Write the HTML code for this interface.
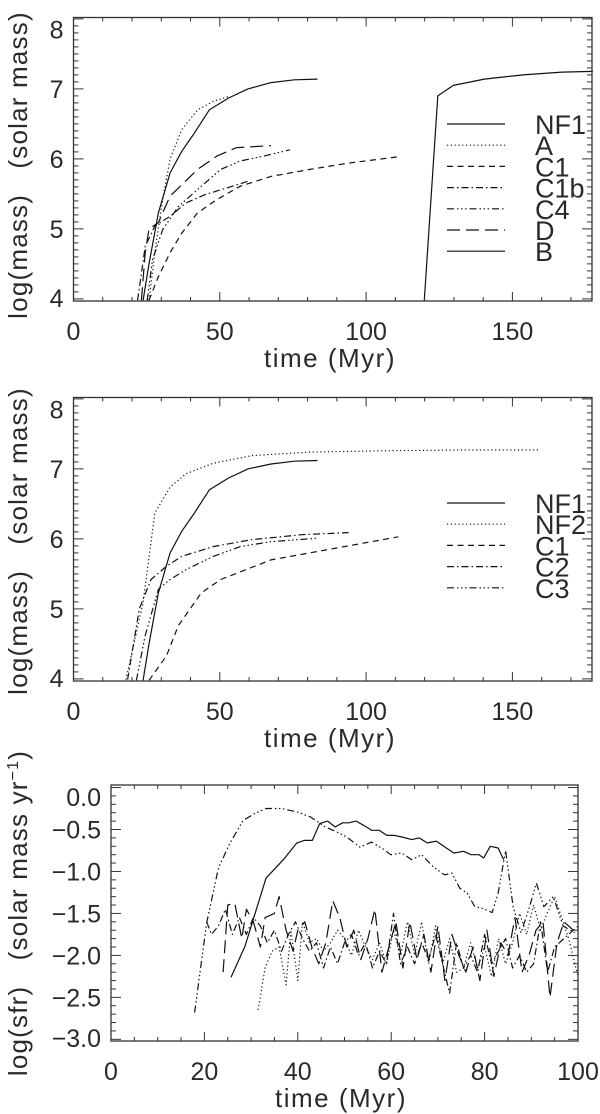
<!DOCTYPE html>
<html><head><meta charset="utf-8"><style>
html,body{margin:0;padding:0;background:#fff;}
svg{display:block;}
text{font-family:"Liberation Sans",sans-serif;fill:#2a2a2a;}
</style></head><body>
<svg id="fig" width="600" height="1114" viewBox="0 0 600 1114" xmlns="http://www.w3.org/2000/svg"></svg>
<script>
// ---------- Panel 1 data (time Myr, log mass) ----------
const p1_NF1_t=[23.8,25.8,29,33,37,41,46.4,53,59.6,67.5,75.5,83.4];
const p1_NF1_v=[3.98,4.5,5.23,5.8,6.11,6.35,6.7,6.87,7.0,7.09,7.13,7.14];
const p1_A_t=[25.8,27.8,30.5,33,37,42.4,47.7,53.6];
const p1_A_v=[3.98,4.66,5.42,6.0,6.42,6.7,6.82,6.9];
const p1_C1_t=[25.8,29,33,37,42.4,49,57,67.5,80.8,94,111];
const p1_C1_v=[3.98,4.32,4.66,4.94,5.23,5.42,5.61,5.75,5.85,5.94,6.03];
const p1_C1b_t=[21.9,24.5,27.8,33,38.4,45,54.3,59.6];
const p1_C1b_v=[3.98,4.75,5.04,5.18,5.37,5.49,5.61,5.68];
const p1_C4_t=[25.2,27,30.5,35.8,43.7,50.3,57,65,74];
const p1_C4_v=[3.98,4.56,4.99,5.32,5.61,5.85,5.97,6.04,6.13];
const p1_D_t=[23.2,24.5,25.8,29,33,37,42.4,49,55.6,67.5];
const p1_D_v=[3.98,4.66,5.0,5.09,5.47,5.63,5.85,6.04,6.16,6.19];
const p1_B_t=[119.9,124.5,129.8,140.4,153.6,166.9,177.5];
const p1_B_v=[3.98,6.9,7.05,7.14,7.2,7.24,7.25];
// ---------- Panel 2 data ----------
const p2_NF1_t=[23.8,25.8,29,33,37,41,46.4,53,59.6,67.5,75.5,83.4];
const p2_NF1_v=[3.98,4.5,5.23,5.8,6.11,6.35,6.7,6.87,7.0,7.07,7.11,7.12];
const p2_NF2_t=[17.9,20.5,23.8,27.8,33,38.4,47.7,61,80.8,107,133.8,159.6];
const p2_NF2_v=[3.99,4.48,5.09,6.37,6.74,6.93,7.08,7.19,7.24,7.26,7.27,7.27];
const p2_C1_t=[25.8,31.8,35.8,43.7,50.3,67.5,83.4,111];
const p2_C1_v=[3.98,4.33,4.76,5.23,5.42,5.7,5.82,6.03];
const p2_C2_t=[18.5,22.5,26.5,31.8,37,47.7,61,78,94];
const p2_C2_v=[3.99,5.0,5.42,5.61,5.75,5.89,5.99,6.06,6.09];
const p2_C3_t=[21.5,24.5,29,33,38.4,47.7,57,67.5,83.4];
const p2_C3_v=[3.98,4.62,5.28,5.42,5.56,5.75,5.89,5.96,6.01];
// ---------- Panel 3 data (time Myr, log sfr) ----------
const p3_NF1_t=[25.7,28.7,33.2,36.9,39.8,41.4,43.1,44.7,46.4,48,49.6,50.9,52.5,54.1,55.8,57.4,59.1,60.7,62.3,64.4,66,67.7,69.7,71.8,73.4,75.5,77.1,78.8,79.8,81.2,82.9,84.1];
const p3_NF1_v=[-2.26,-1.89,-1.08,-0.86,-0.66,-0.63,-0.63,-0.43,-0.4,-0.47,-0.42,-0.42,-0.4,-0.45,-0.51,-0.51,-0.57,-0.57,-0.59,-0.62,-0.6,-0.66,-0.64,-0.72,-0.78,-0.76,-0.8,-0.8,-0.84,-0.7,-0.72,-0.86];
const p3_NF2_t=[17.9,20.5,23,25.4,28.3,30.8,33.2,36.5,39.8,42.7,45.9,48.4,50.5,53.3,55.8,58.2,59.9,62.3,64.4,66.5,68.9,71.4,73,74.7,76.3,77.9,79.6,81.6,82.9,84.5,86.1,87.8,89.4,91.1,92.7,94.7,96.8,99.3];
const p3_NF2_v=[-2.68,-1.61,-0.96,-0.67,-0.39,-0.31,-0.25,-0.25,-0.29,-0.35,-0.47,-0.53,-0.59,-0.71,-0.65,-0.73,-0.8,-0.78,-0.86,-0.8,-0.94,-1.04,-1.02,-1.2,-1.26,-1.42,-1.44,-1.49,-1.26,-0.75,-1.42,-1.73,-1.46,-1.14,-1.42,-1.3,-1.65,-1.73];
const p3_C1_t=[24,25,26.5,28,29,30.5,32,33,35,36,37.5,39,40,41.5,43,44.5,46,47.5,49,50.5,52,53.5,55,56.5,58,59.5,61,62.5,64,65.5,67,68.5,70,71.5,73,74.5,76,77.5,79,80.5,82,83.5,85,86.5,88,89.5,91,92.5,94,95.5,97,99];
const p3_C1_v=[-2.2,-1.4,-1.38,-1.8,-1.45,-1.6,-1.9,-1.55,-1.5,-1.3,-1.7,-1.95,-1.7,-1.6,-1.9,-2.1,-1.85,-1.35,-1.55,-1.9,-1.7,-2.05,-1.8,-1.45,-2.2,-1.9,-1.6,-2.15,-1.6,-2.05,-1.75,-2.2,-1.65,-2.3,-1.75,-2.0,-2.2,-1.9,-2.3,-1.7,-2.25,-1.85,-2.0,-1.55,-2.2,-2.0,-1.7,-1.6,-2.5,-1.85,-1.6,-1.7];
const p3_C2_t=[20.5,21.5,23,24.5,26,27.5,29,30.5,32,33.5,35,36.5,38,39.5,41,42.5,44,45.5,47,48.5,50,51.5,53,54.5,56,57.5,59,60.5,62,63.5,65,66.5,68,69.5,71,72.5,74,75.5,77,78.5,80,81.5,83,84.5,86,87.5,89,90.5,92,93.5,95,97,100];
const p3_C2_v=[-1.6,-1.75,-1.65,-1.45,-1.75,-1.55,-1.75,-1.55,-1.65,-1.85,-1.7,-1.95,-1.75,-1.6,-1.8,-1.95,-1.85,-2.15,-1.9,-2.1,-1.85,-1.75,-2.0,-1.85,-2.15,-1.95,-2.1,-1.5,-2.1,-1.9,-2.1,-1.85,-2.05,-1.75,-2.1,-2.45,-1.85,-2.15,-2.0,-2.2,-1.75,-2.1,-1.95,-1.8,-2.15,-2.0,-2.2,-2.1,-1.6,-2.2,-1.9,-1.8,-1.65];
const p3_C3_t=[31.5,33,34.5,36,37.5,38.5,40,41,42.5,44,45.5,47,48.5,50,51.5,53,54.5,56,57.5,59,60.5,62,63.5,65,66.5,68,69.5,71,72.5,74,75.5,77,78.5,80,81.5,83,84.5,86,87.5,89,90.5,92,93,95,96.5,98,100];
const p3_C3_v=[-2.65,-2.15,-1.95,-1.9,-2.35,-1.7,-2.3,-1.6,-1.85,-1.8,-1.95,-1.85,-1.7,-1.8,-2.0,-1.7,-1.9,-2.05,-1.85,-2.1,-1.7,-2.0,-1.6,-2.0,-1.6,-2.1,-1.65,-2.1,-1.8,-2.2,-2.15,-1.85,-2.15,-1.9,-2.25,-1.8,-2.1,-1.85,-1.5,-1.75,-1.4,-1.7,-1.55,-1.3,-1.55,-1.8,-2.25];
// tick labels
const massTicks=[4,5,6,7,8];
const timeTicks1=[0,50,100,150];
const sfrTicks=[0.0,-0.5,-1.0,-1.5,-2.0,-2.5,-3.0];
const sfrTickLabels=["0.0","\u22120.5","\u22121.0","\u22121.5","\u22122.0","\u22122.5","\u22123.0"];
const timeTicks3=[0,20,40,60,80,100];
const legend1=["NF1","A","C1","C1b","C4","D","B"];
const legend2=["NF1","NF2","C1","C2","C3"];

const NS="http://www.w3.org/2000/svg";
const svg=document.getElementById('fig');
const DASH={solid:"",dot:"1.2,2.6",dash:"6,4.5",dashdot:"7,3,1.5,3",dash3dot:"7,3,1.5,2.5,1.5,2.5,1.5,3",longdash:"13,6"};
function mk(tag,attrs,parent){const e=document.createElementNS(NS,tag);for(const k in attrs)e.setAttribute(k,attrs[k]);(parent||svg).appendChild(e);return e;}

function panel(cfg){
  const g=mk('g',{});
  
  
  const X=t=>cfg.L+(t-cfg.x0)/(cfg.x1-cfg.x0)*(cfg.R-cfg.L);
  const Y=v=>cfg.B-(v-cfg.y0)/(cfg.y1-cfg.y0)*(cfg.B-cfg.T);
  cfg.series.forEach(s=>{
    const pts=s.t.map((t,i)=>X(t).toFixed(1)+','+Y(s.v[i]).toFixed(1)).join(' ');
    const pl=mk('polyline',{points:pts,fill:'none',stroke:'#111','stroke-width':1.2,'stroke-dasharray':DASH[s.style],'stroke-linejoin':'round'},g);
    
    
  });
  const tk=mk('g',{stroke:'#333','stroke-width':1},g);
  
  
  for(let t=cfg.x0;t<=cfg.x1+1e-6;t+=cfg.xminor){
    const major=Math.abs(t/cfg.xmajor-Math.round(t/cfg.xmajor))<1e-6;const len=major?9:4;const x=X(t);
    mk('line',{x1:x,y1:cfg.B,x2:x,y2:cfg.B-len},tk);mk('line',{x1:x,y1:cfg.T,x2:x,y2:cfg.T+len},tk);
  }
  const ys=Math.ceil(cfg.y0/cfg.yminor-1e-6);
  for(let k=ys;k*cfg.yminor<=cfg.y1+1e-6;k++){
    const v=k*cfg.yminor;const major=Math.abs(v/cfg.ymajor-Math.round(v/cfg.ymajor))<1e-6;const len=major?10:5;const y=Y(v);
    mk('line',{x1:cfg.L,y1:y,x2:cfg.L+len,y2:y},tk);mk('line',{x1:cfg.R,y1:y,x2:cfg.R-len,y2:y},tk);
  }
  const box=mk('rect',{x:cfg.L,y:cfg.T,width:cfg.R-cfg.L,height:cfg.B-cfg.T,fill:'none',stroke:'#333','stroke-width':1.3},g);
  
  
  cfg.yticks.forEach((v,i)=>{
    let cy=Math.max(Y(v),cfg.T+12);cy=Math.min(cy,cfg.B-3);
    const t=mk('text',{x:cfg.L-10,y:cy+9,'text-anchor':'end','font-size':25},g);
    t.textContent=cfg.ylabels?cfg.ylabels[i]:String(v);
    
    
  });
  cfg.xticks.forEach(v=>{
    const t=mk('text',{x:X(v),y:cfg.B+39,'text-anchor':'middle','font-size':25},g);
    t.textContent=String(v);
    
    
  });
  const xt=mk('text',{x:cfg.xtx,y:cfg.B+66,'text-anchor':'middle','font-size':26,'letter-spacing':1.5},g);
  xt.textContent='time (Myr)';
  
  
  const yt=mk('text',{x:0,y:0,'text-anchor':'middle','font-size':26,'letter-spacing':1.2,transform:`translate(${cfg.ytx},${cfg.yty}) rotate(-90)`},g);
  yt.innerHTML=cfg.ytitle;
  
  
  if(cfg.legend){
    cfg.legend.forEach((lab,i)=>{
      const y=cfg.legY+i*21.2;
      const s=cfg.series[i];
      const lg=mk('g',{},g);
      
      
      mk('line',{x1:447,y1:y,x2:505,y2:y,stroke:'#111','stroke-width':1.2,'stroke-dasharray':DASH[s.style]},lg);
      const t=mk('text',{x:535,y:y+10,'font-size':27},lg);
      t.textContent=lab;
    });
  }
}

panel({name:'panel-mass-1',L:73.5,R:592,T:17.5,B:301,x0:0,x1:177.2,y0:3.97,y1:8.02,xmajor:50,xminor:10,ymajor:1,yminor:0.1,
  yticks:massTicks,xticks:timeTicks1,xtx:330,ytx:27,yty:165,ytitle:'log(mass)&#160;&#160;&#160;(solar mass)',
  legend:legend1,legY:124,
  series:[{t:p1_NF1_t,v:p1_NF1_v,style:'solid',label:'NF1'},{t:p1_A_t,v:p1_A_v,style:'dot',label:'A'},{t:p1_C1_t,v:p1_C1_v,style:'dash',label:'C1'},
    {t:p1_C1b_t,v:p1_C1b_v,style:'dashdot',label:'C1b'},{t:p1_C4_t,v:p1_C4_v,style:'dash3dot',label:'C4'},{t:p1_D_t,v:p1_D_v,style:'longdash',label:'D'},{t:p1_B_t,v:p1_B_v,style:'solid',label:'B'}]});

panel({name:'panel-mass-2',L:73.5,R:592,T:397.5,B:681,x0:0,x1:177.2,y0:3.97,y1:8.02,xmajor:50,xminor:10,ymajor:1,yminor:0.1,
  yticks:massTicks,xticks:timeTicks1,xtx:330,ytx:27,yty:541,ytitle:'log(mass)&#160;&#160;&#160;(solar mass)',
  legend:legend2,legY:503,
  series:[{t:p2_NF1_t,v:p2_NF1_v,style:'solid',label:'NF1'},{t:p2_NF2_t,v:p2_NF2_v,style:'dot',label:'NF2'},{t:p2_C1_t,v:p2_C1_v,style:'dash',label:'C1'},
    {t:p2_C2_t,v:p2_C2_v,style:'dashdot',label:'C2'},{t:p2_C3_t,v:p2_C3_v,style:'dash3dot',label:'C3'}]});

panel({name:'panel-sfr',L:111,R:578,T:785,B:1041,x0:0,x1:100,y0:-3.02,y1:0.03,xmajor:20,xminor:5,ymajor:0.5,yminor:0.1,
  yticks:sfrTicks,ylabels:sfrTickLabels,xticks:timeTicks3,xtx:341,ytx:27,yty:913,
  ytitle:'log(sfr)&#160;&#160;&#160;(solar mass yr<tspan dy="-9" font-size="16">\u22121</tspan><tspan dy="9">)</tspan>',
  series:[{t:p3_NF1_t,v:p3_NF1_v,style:'solid',label:'NF1'},{t:p3_NF2_t,v:p3_NF2_v,style:'dash3dot',label:'NF2'},{t:p3_C1_t,v:p3_C1_v,style:'longdash',label:'C1'},
    {t:p3_C2_t,v:p3_C2_v,style:'dashdot',label:'C2'},{t:p3_C3_t,v:p3_C3_v,style:'dot',label:'C3'}]});
</script>
</body></html>
